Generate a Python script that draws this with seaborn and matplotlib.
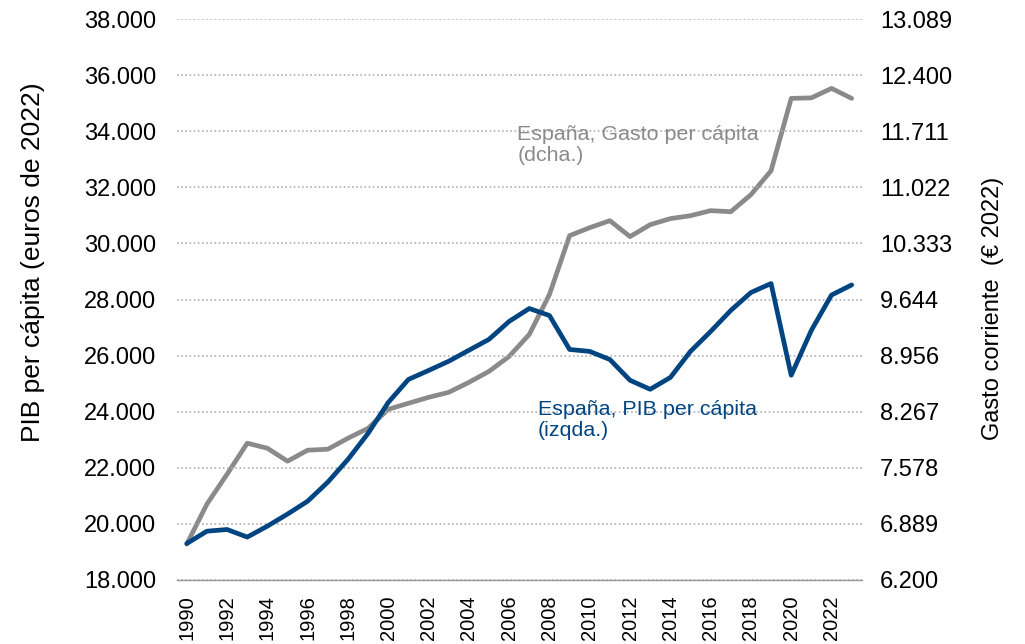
import matplotlib
matplotlib.use('Agg')
import matplotlib.pyplot as plt
import seaborn as sns
import pandas as pd
from matplotlib.ticker import FuncFormatter, FixedLocator

years = list(range(1990, 2024))

pib = [19300, 19740, 19800, 19530, 19920, 20350, 20810, 21490, 22300, 23230,
       24330, 25150, 25470, 25800, 26190, 26580, 27220, 27680, 27430, 26220,
       26150, 25860, 25120, 24800, 25220, 26150, 26860, 27610, 28250, 28570,
       25300, 26900, 28160, 28520]

gasto = [6641, 7132, 7499, 7880, 7818, 7659, 7794, 7806, 7941, 8063,
         8296, 8370, 8443, 8505, 8627, 8762, 8946, 9216, 9706, 10429,
         10527, 10613, 10417, 10564, 10638, 10674, 10736, 10723, 10932, 11226,
         12115, 12121, 12238, 12115]

left_ticks = [18000, 20000, 22000, 24000, 26000, 28000, 30000, 32000, 34000, 36000, 38000]
right_ticks = [6200, 6889, 7578, 8267, 8956, 9644, 10333, 11022, 11711, 12400, 13089]

df = pd.DataFrame({'year': years, 'pib': pib, 'gasto': gasto})

sns.set_style('white')
plt.rcParams['font.family'] = ['Liberation Sans', 'DejaVu Sans']

blue = '#004481'
grey = '#8a8a8a'

fig = plt.figure(figsize=(10.25, 6.44), dpi=100)
ax = fig.add_axes([0.1724, 0.0994, 0.6683, 0.871])
ax2 = ax.twinx()

sns.lineplot(data=df, x='year', y='gasto', ax=ax2, color=grey, linewidth=3.4)
sns.lineplot(data=df, x='year', y='pib', ax=ax, color=blue, linewidth=3.4)
ax.set_zorder(ax2.get_zorder() + 1)
ax.patch.set_visible(False)

ax.set_ylim(18000, 38000)
ax2.set_ylim(6200, 13089)
ax.set_xlim(1989.5, 2023.5)

ax.set_yticks(left_ticks)
ax.yaxis.set_major_formatter(FuncFormatter(lambda v, p: f'{int(v):,}'.replace(',', '.')))
ax2.yaxis.set_major_locator(FixedLocator(right_ticks))
ax2.set_yticklabels([f'{v:,}'.replace(',', '.') for v in right_ticks])

ax.yaxis.grid(True, linestyle=(0, (1, 1.5)), color='#b0b0b0', linewidth=1.2)
ax.set_axisbelow(True)

ax.set_xticks(years[::2])
ax.set_xticklabels([str(y) for y in years[::2]], rotation=90)
ax.set_xticks([y - 0.5 for y in years] + [2023.5], minor=True)
ax.tick_params(axis='x', which='major', length=0, labelsize=14.5, pad=11, labelcolor='black')
ax.tick_params(axis='x', which='minor', length=4.5, color='#999999', width=1)
ax.tick_params(axis='y', length=0, labelsize=17, pad=15, labelcolor='black')
ax2.tick_params(axis='y', length=0, labelsize=17, pad=13, labelcolor='black')

for a in (ax, ax2):
    for s in ('top', 'left', 'right', 'bottom'):
        a.spines[s].set_visible(False)
ax.spines['bottom'].set_visible(True)
ax.spines['bottom'].set_color('#999999')
ax.spines['bottom'].set_linewidth(1)

ax.set_xlabel('')
ax.set_ylabel('PIB per cápita (euros de 2022)', fontsize=19, color='black')
ax.yaxis.set_label_coords(-0.192, 0.567)
ax2.set_ylabel('Gasto corriente  (€ 2022)', fontsize=17, color='black')
ax2.yaxis.set_label_coords(1.176, 0.485)

ax.text(2006.4, 34240, 'España, Gasto per cápita\n(dcha.)', color=grey,
        fontsize=15.4, va='top', ha='left', linespacing=1.17)
ax.text(2007.43, 24435, 'España, PIB per cápita\n(izqda.)', color=blue,
        fontsize=15.4, va='top', ha='left', linespacing=1.17)

fig.savefig('out.png', dpi=100)
